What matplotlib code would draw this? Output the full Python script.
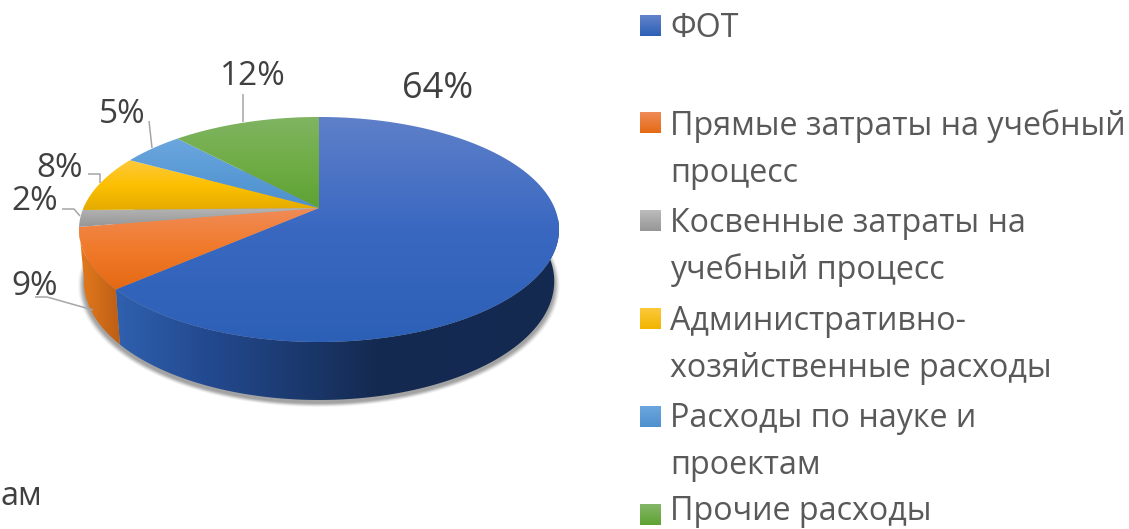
import numpy as np
import matplotlib
matplotlib.use("Agg")
import matplotlib.pyplot as plt
from matplotlib.colors import LinearSegmentedColormap
from matplotlib.patches import Polygon

categories = ["ФОТ", "Прямые затраты на учебный\nпроцесс", "Косвенные затраты на\nучебный процесс",
              "Административно-\nхозяйственные расходы", "Расходы по науке и\nпроектам", "Прочие расходы"]
values = [63.6, 8.7, 2.4, 8.3, 5.0, 12.0]
pct_labels = ["64%", "9%", "2%", "8%", "5%", "12%"]
label_xy = [(438, 98), (35, 295), (35, 210), (60, 177), (122, 123), (253, 85)]
label_size = [26, 24, 24, 24, 24, 24]
leaders = [None,
           [(35, 297), (47, 297), (93, 310)],
           [(62, 209), (74, 209), (80, 216)],
           [(88, 174), (100, 174), (100, 183)],
           [(149, 121), (152, 148)],
           [(243, 94), (243, 122)]]
face_stops = [["#5f80c9", "#3a68c1", "#2c60b6"],
              ["#f08c58", "#f17a2b", "#e46914"],
              ["#b4b4b4", "#a5a5a5", "#969696"],
              ["#fdc93c", "#fdc002", "#e4ab00"],
              ["#6ca6de", "#5a9bd6", "#4d90cd"],
              ["#80b463", "#70ad47", "#5ea232"]]
legend_base = [[37], [135, 182], [232, 279], [330, 377], [427, 474], [520.5]]
legend_box_top = [15, 112, 210, 308, 406, 504]
swatch_stops = [["#6484cb", "#2c60b6"], ["#f08c58", "#e46914"], ["#bcbcbc", "#969696"],
                ["#fdc93c", "#f0b400"], ["#6ca6de", "#4d90cd"], ["#85b769", "#5ea232"]]

FONT = ["Open Sans", "DejaVu Sans"]
CX, CY, K, A, B = 319.0, 208.0, -0.191, 235.6, 108.4

def top_rim(theta):
    x, y = np.sin(theta), -np.cos(theta)
    d = 1 + K * y
    return CX + A * x / d, CY + B * y / d

def bottom_rim(theta):
    x, y = top_rim(theta)
    return CX + (x - CX) * 0.98, y + 52 + 6 * (y - 232) / 110

fig = plt.figure(figsize=(11.29, 5.29), dpi=100)
ax = fig.add_axes([0, 0, 1, 1])
ax.set_xlim(0, 1129)
ax.set_ylim(529, 0)
ax.axis("off")

def gradient_fill(verts, colors, horizontal=False, extent=None, z=2):
    verts = np.asarray(verts)
    cmap = LinearSegmentedColormap.from_list("g", colors)
    data = np.linspace(0, 1, 256)
    data = data.reshape(1, -1) if horizontal else data.reshape(-1, 1)
    x0, x1 = verts[:, 0].min(), verts[:, 0].max()
    y0, y1 = verts[:, 1].min(), verts[:, 1].max()
    if extent is None:
        extent = (x0, x1, y1, y0)
    im = ax.imshow(data, cmap=cmap, extent=extent, aspect="auto", zorder=z, interpolation="bilinear", origin="upper")
    patch = Polygon(verts, closed=True, transform=ax.transData)
    im.set_clip_path(patch)

fractions = np.array(values, dtype=float) / sum(values)
edges = np.concatenate([[0], np.cumsum(fractions)]) * 2 * np.pi

# soft shadow under the disc
ring = np.linspace(0, 2 * np.pi, 361)
bx, by = bottom_rim(ring)
for grow, alpha in zip(np.linspace(1.024, 1.002, 9), [0.04] * 3 + [0.08] * 6):
    ax.fill(CX + (bx - CX) * grow, 232 + (by - 232) * grow + 3, color="#404040", alpha=alpha, lw=0, zorder=1)

# side wall: blue and orange slices are the only ones facing the viewer
wall_colors = {0: ["#2f60ae", "#234a90", "#1c3a70", "#14294f", "#142a52", "#15294f"],
               1: ["#e47a1e", "#bd5e14"]}
for i, cols in wall_colors.items():
    th = np.linspace(edges[i], edges[i + 1], 240)
    th = th[(th > np.pi / 2 - 0.1)]
    if i == 1:
        th = th[th <= 3 * np.pi / 2 - 0.04]
    tx, ty = top_rim(th)
    qx, qy = bottom_rim(th)
    vx = np.concatenate([tx, qx[::-1]])
    vy = np.concatenate([ty, qy[::-1]])
    if i == 0:
        gradient_fill(np.c_[vx, vy], cols, horizontal=True, extent=(116, 560, 410, 220), z=2)
    else:
        gradient_fill(np.c_[vx, vy], cols, horizontal=True, z=2.1)

# top face
for i, stops in enumerate(face_stops):
    th = np.linspace(edges[i], edges[i + 1], max(int(fractions[i] * 720), 12))
    tx, ty = top_rim(th)
    verts = np.c_[np.r_[CX, tx], np.r_[CY, ty]]
    gradient_fill(verts, stops, z=3 + i * 0.01)

# percent labels and leader lines
for t, (x, y), s in zip(pct_labels, label_xy, label_size):
    ax.text(x, y, t, fontsize=s, color="#404040", family=FONT, ha="center", va="baseline", zorder=6)
for pts in leaders:
    if pts:
        p = np.array(pts)
        ax.plot(p[:, 0], p[:, 1], color="#a6a6a6", lw=1.1, zorder=5, solid_capstyle="butt")

# legend
for cat, bases, top, st in zip(categories, legend_base, legend_box_top, swatch_stops):
    box = [(640, top), (661, top), (661, top + 21), (640, top + 21)]
    gradient_fill(box, st, z=4)
    for line, b in zip(cat.split("\n"), bases):
        ax.text(670, b, line, fontsize=23.2, color="#595959", family=FONT, ha="left", va="baseline", zorder=6)

ax.text(0, 505, "ам", fontsize=23.2, color="#404040", family=FONT, ha="left", va="baseline", zorder=6)

ax.set_xlim(0, 1129)
ax.set_ylim(529, 0)
fig.savefig("out.png", dpi=100, facecolor="white")
